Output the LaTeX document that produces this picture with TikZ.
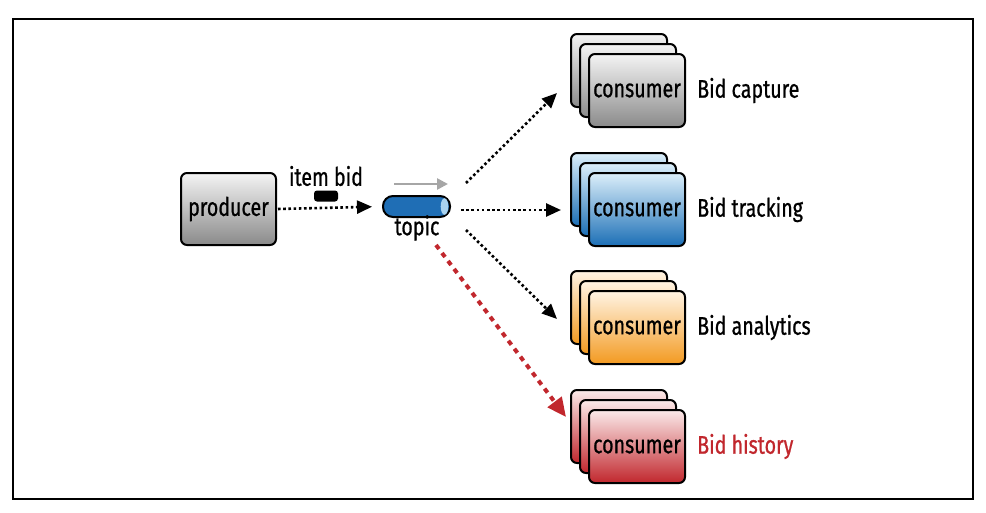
\documentclass[tikz,border=0pt]{standalone}
\usepackage{fontspec}
\setmainfont[FakeStretch=0.77, FakeBold=0.8]{Fira Sans}
\usetikzlibrary{arrows.meta}
\definecolor{gtop}{HTML}{F4F4F4}
\definecolor{gbot}{HTML}{8A8A8A}
\definecolor{btop}{HTML}{DCEFFA}
\definecolor{bbot}{HTML}{1C6FB6}
\definecolor{otop}{HTML}{FFF4E4}
\definecolor{obot}{HTML}{F39A21}
\definecolor{rtop}{HTML}{FBEAEA}
\definecolor{rbot}{HTML}{C1272D}
\definecolor{redline}{HTML}{C1272D}
\definecolor{topicblue}{HTML}{1F6EB5}
\definecolor{topiclight}{HTML}{A9D3F0}
\tikzset{
  card/.style={draw=black, line width=2pt, rounded corners=6pt, minimum width=96pt, minimum height=73pt, inner sep=0pt},
  txt/.style={font=\fontsize{25.5}{29}\selectfont, inner sep=0pt},
  dotarrow/.style={line width=2.6pt, dash pattern=on 2.6pt off 2.6pt, -{Triangle[length=15pt,width=13pt]}},
  redarrow/.style={redline, line width=4pt, dash pattern=on 5pt off 5pt, -{Triangle[length=19pt,width=17pt]}},
}
\begin{document}
\begin{tikzpicture}[x=1pt,y=-1pt]
\useasboundingbox (0,0) rectangle (986,512);
\node[draw=black, line width=1.5pt, minimum width=960pt, minimum height=480pt, inner sep=0pt] (frame) at (493,259) {};
% producer
\node[card, top color=gtop, bottom color=gbot, minimum width=95pt, minimum height=72pt, txt] (prod) at (228.5,209) {producer};
\node[txt] (itembid) at (326,176) {item bid};
\node[fill=black, rounded corners=3pt, minimum width=24pt, minimum height=11pt, inner sep=0pt] (pill) at (326,196) {};
% topic
\node[draw=black, line width=2pt, fill=topicblue, rounded corners=10pt, inner sep=0pt, minimum width=67pt, minimum height=21pt] (topic) at (416.5,206.5) {};
\fill[topiclight] (444.5,206.5) ellipse[x radius=3.8, y radius=8.3];
\coordinate (ga) at (394,184);
\coordinate (gb) at (448,184);
\draw[gray!70, line width=2.6pt, -{Triangle[length=11pt,width=11pt]}] (ga) -- (gb);
\node[txt] (topiclab) at (417,228) {topic};
% consumer stacks
\foreach \n/\yy/\tc/\bc/\lab/\lc in {cap/0/gtop/gbot/Bid capture/black, trk/119/btop/bbot/Bid tracking/black, ana/237/otop/obot/Bid analytics/black, his/356/rtop/rbot/Bid history/redline}{
  \node[card, top color=\tc, bottom color=\bc] (\n-b) at (619,70.5+\yy) {};
  \node[card, top color=\tc, bottom color=\bc] (\n-m) at (628,80.5+\yy) {};
  \node[card, top color=\tc, bottom color=\bc, txt] (\n) at (637,90.5+\yy) {consumer};
  \node[txt, anchor=west, text=\lc] (\n-l) at (697,90.5+\yy) {\lab};
}
% connectors
\draw[dotarrow, shorten <=1pt, shorten >=10pt] (prod.east) -- (topic.west);
\coordinate (s1) at (466,183);
\coordinate (e1) at (557,93);
\coordinate (s2) at (461,210);
\coordinate (s3) at (466,230);
\coordinate (e3) at (557,319);
\coordinate (s4) at (436,245);
\coordinate (e4) at (566,417);
\draw[dotarrow] (s1) -- (e1);
\draw[dotarrow, shorten >=9pt] (s2) -- (trk-b.west |- s2);
\draw[dotarrow] (s3) -- (e3);
\draw[redarrow] (s4) -- (e4);
\end{tikzpicture}
\end{document}
